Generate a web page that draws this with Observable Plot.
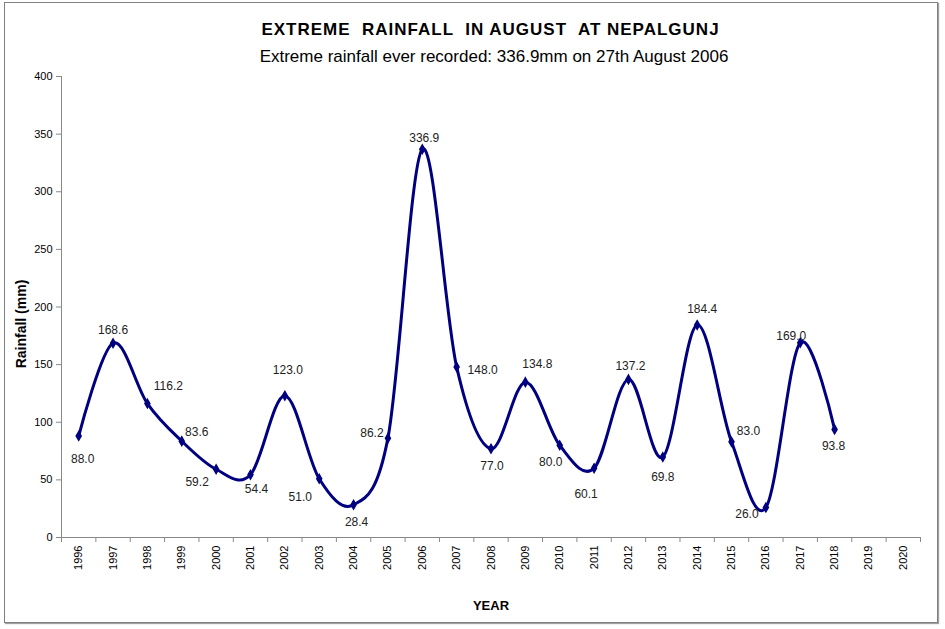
<!DOCTYPE html>
<html>
<head>
<meta charset="utf-8">
<script src="https://cdn.jsdelivr.net/npm/d3@7"></script>
<script src="https://cdn.jsdelivr.net/npm/@observablehq/plot@0.6"></script>
<style>
  html, body { margin: 0; padding: 0; background: #fff; }
  #wrap { position: relative; width: 945px; height: 629px; overflow: hidden; font-family: "Liberation Sans", Arial, sans-serif; }
  #border { position: absolute; left: 4px; top: 2px; width: 932px; height: 619px; border: 1px solid #808080; box-shadow: 1px 1px 1px #a0a0a0; }
  #title { position: absolute; left: 0; width: 981px; top: 20px; line-height: 20px; text-align: center; font-weight: bold; font-size: 17px; letter-spacing: 1px; color: #000; white-space: pre; }
  #subtitle { position: absolute; left: 0; width: 988px; top: 47px; line-height: 20px; text-align: center; font-size: 17px; color: #000; }
  #chart { position: absolute; left: 0; top: 65px; }
</style>
</head>
<body>
<div id="wrap">
  <div id="border"></div>
  <div id="title">EXTREME  RAINFALL  IN AUGUST  AT NEPALGUNJ</div>
  <div id="subtitle">Extreme rainfall ever recorded: 336.9mm on 27th August 2006</div>
  <div id="chart"></div>
</div>
<script>
// ---- data ----
const years = [1996,1997,1998,1999,2000,2001,2002,2003,2004,2005,2006,2007,2008,2009,2010,2011,2012,2013,2014,2015,2016,2017,2018,2019,2020];
const dataYears = [1996,1997,1998,1999,2000,2001,2002,2003,2004,2005,2006,2007,2008,2009,2010,2011,2012,2013,2014,2015,2016,2017,2018];
const rainfall = [88.0,168.6,116.2,83.6,59.2,54.4,123.0,51.0,28.4,86.2,336.9,148.0,77.0,134.8,80.0,60.1,137.2,69.8,184.4,83.0,26.0,169.0,93.8];
const yTicks = [0,50,100,150,200,250,300,350,400];

// label placement offsets (layout only)
const labelOffsets = [[4,23],[0,-13],[21,-17],[15,-9],[-19,13],[6,14],[3,-26],[-19,18],[3,17],[-16,-5],[2,-11],[26,3],[1,17],[12,-18],[-9,17],[-8,26],[2,-13],[0,20],[5,-16],[17,-11],[-19,7],[-9,-7],[-1,17]];

const rows = dataYears.map((yr, i) => ({year: yr, value: rainfall[i]}));
const bounds = years.map(y => y - 0.5).concat([years[years.length - 1] + 0.5]);
const navy = "#000080";
const axisGray = "#888888";

const labelMarks = rows.map((r, i) => Plot.text([r], {
  x: "year", y: "value", text: d => d.value.toFixed(1),
  dx: labelOffsets[i][0], dy: labelOffsets[i][1],
  fontSize: 12, fill: "#222"
}));

const chart = Plot.plot({
  width: 945,
  height: 564,
  marginLeft: 61,
  marginRight: 25,
  marginTop: 11,
  marginBottom: 92,
  style: {fontFamily: "'Liberation Sans', Arial, sans-serif", fontSize: "11px", color: "#000", background: "transparent"},
  x: {type: "linear", domain: [bounds[0], bounds[bounds.length - 1]]},
  y: {domain: [0, 400]},
  marks: [
    // y axis line and ticks
    Plot.ruleX([bounds[0]], {y1: 0, y2: 400, stroke: axisGray}),
    Plot.axisY(yTicks, {tickSize: 5, tickPadding: 4, stroke: axisGray, fill: "#000", label: null, fontSize: 11}),
    // x axis line and ticks at band boundaries
    Plot.ruleY([0], {stroke: axisGray}),
    Plot.axisX(bounds, {tickSize: 5, text: null, stroke: axisGray, label: null}),
    Plot.axisX(years, {tickSize: 0, tickPadding: 8, tickRotate: -90, tickFormat: d => String(d), label: null, fontSize: 11, fill: "#000", style: {letterSpacing: "0.6px"}}),
    // axis titles
    Plot.text(["Rainfall (mm)"], {frameAnchor: "left", textAnchor: "middle", lineAnchor: "middle", dx: -40, dy: 17, rotate: -90, fontWeight: "bold", fontSize: 14, fill: "#000"}),
    Plot.text(["YEAR"], {frameAnchor: "bottom", textAnchor: "middle", lineAnchor: "middle", dy: 68, fontWeight: "bold", fontSize: 13, fill: "#000"}),
    // series
    Plot.line(rows, {x: "year", y: "value", stroke: navy, strokeWidth: 3, curve: "cardinal", tension: 0}),
    Plot.dot(rows, {x: "year", y: "value", symbol: "diamond", r: 2.6, fill: navy, stroke: navy}),
    ...labelMarks
  ]
});
document.getElementById("chart").appendChild(chart);
</script>
</body>
</html>
